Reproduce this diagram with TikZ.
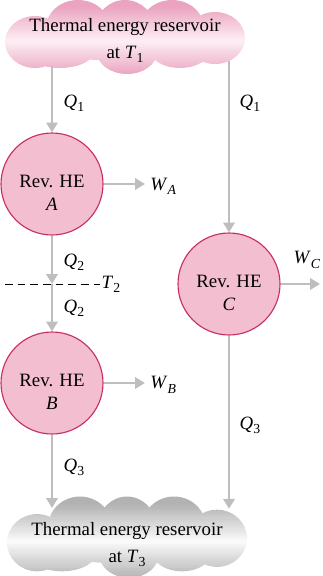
\documentclass[tikz,border=0pt]{standalone}
\usepackage{fontspec}
\setmainfont{Liberation Serif}
\usetikzlibrary{arrows.meta}

\definecolor{hepink}{RGB}{242,190,208}
\definecolor{heborder}{RGB}{200,45,105}
\definecolor{flowgray}{RGB}{190,190,190}
\definecolor{hotdark}{RGB}{234,164,192}
\definecolor{hotlight}{RGB}{253,238,244}
\definecolor{colddark}{RGB}{178,178,178}
\definecolor{coldlight}{RGB}{250,250,250}

\newcommand{\vsub}[2]{\textit{#1}\raisebox{-0.5ex}{\fontsize{9.8}{10}\selectfont #2}}

% Cloud outline (overlapping puffs around the origin)
\newcommand{\cloudpath}{(-2.25,-0.175) ellipse (0.75 and 0.65)
  (-1.175,0.175) ellipse (0.8 and 0.7)
  (0,0.125) circle (0.75)
  (1.175,0.175) ellipse (0.8 and 0.7)
  (2.25,-0.075) ellipse (0.75 and 0.65)
  (-1.625,-0.375) ellipse (0.875 and 0.45)
  (0.05,-0.425) ellipse (0.75 and 0.55)
  (1.375,-0.375) ellipse (0.75 and 0.45)
  (0,-0.1) ellipse (2.4 and 0.55)}
% Cloud filled with strips: light band in the middle, dark at the edges
\newcommand{\cloudfill}[2]{%
  \begin{scope}
    \clip \cloudpath;
    \foreach \k in {0,...,37} {
      \pgfmathsetmacro\ya{0.9-\k*0.05}
      \pgfmathtruncatemacro\p{min(100,abs(\ya-0.025+0.15)/0.85*100)}
      \fill[#1!\p!#2] (-3.1,\ya) rectangle (3.1,\ya-0.051);
    }
  \end{scope}}

\begin{document}
\begin{tikzpicture}[every node/.style={font=\fontsize{13.4}{16.4}\selectfont},
  engine/.style={circle, draw=heborder, line width=0.8pt, fill=hepink,
    minimum size=2.55cm, inner sep=0pt, align=center, text height=38pt},
  flow/.style={draw=flowgray, line width=2pt, -{Triangle[length=7pt,width=8pt]}},
  lbl/.style={anchor=west, inner sep=1pt},
  reservoir/.style={align=center, font=\fontsize{13.4}{19}\selectfont}]
\useasboundingbox (0,0) rectangle (8.05,-14.4);

% Reservoirs
\begin{scope}[shift={(3.125,-0.875)}]
  \cloudfill{hotdark}{hotlight}
\end{scope}
\begin{scope}[shift={(3.175,-13.375)}, yscale=1.1]
  \cloudfill{colddark}{coldlight}
\end{scope}
\node[reservoir] (hot) at (3.125,-1.02) {Thermal energy reservoir\\at \vsub{T}{1}};
\node[reservoir] (cold) at (3.175,-13.62) {Thermal energy reservoir\\at \vsub{T}{3}};

% Heat engines
\node[engine] (A) at (1.3,-4.6) {Rev. HE\\\textit{A}};
\node[engine] (B) at (1.3,-9.575) {Rev. HE\\\textit{B}};
\node[engine] (C) at (5.725,-7.1) {Rev. HE\\\textit{C}};

% Connector ends
\coordinate (hotA) at (1.3,-1.65);
\coordinate (hotC) at (5.725,-1.52);
\coordinate (coldB) at (1.3,-12.7);
\coordinate (coldC) at (5.725,-12.72);
\coordinate (mid) at (1.3,-7.1);
\coordinate (dashL) at (0.125,-7.1);
\coordinate (wA) at (3.625,-4.6);
\coordinate (wB) at (3.625,-9.575);
\coordinate (wC) at (8.0,-7.1);

% Intermediate temperature
\node[lbl] (T2) at (2.5,-7.1) {\vsub{T}{2}};
\draw[dash pattern=on 5.5pt off 3.5pt, thin] (dashL) -- (T2.west);

% Heat flows
\draw[flow] (hotA) -- (A);
\draw[flow] (A) -- (mid);
\draw[flow] (mid) -- (B);
\draw[flow] (B) -- (coldB);
\draw[flow] (hotC) -- (C);
\draw[flow] (C) -- (coldC);

% Work outputs
\draw[flow] (A) -- (wA);
\draw[flow] (B) -- (wB);
\draw[flow] (C) -- (wC);

% Labels
\node[lbl] (q1A) at (1.55,-2.575) {\vsub{Q}{1}};
\node[lbl] (q1C) at (5.95,-2.575) {\vsub{Q}{1}};
\node[lbl] (q2A) at (1.55,-6.55) {\vsub{Q}{2}};
\node[lbl] (q2B) at (1.55,-7.7) {\vsub{Q}{2}};
\node[lbl] (q3B) at (1.55,-11.675) {\vsub{Q}{3}};
\node[lbl] (q3C) at (5.95,-10.625) {\vsub{Q}{3}};
\node[lbl] (WA) at (3.72,-4.65) {\vsub{W}{\textit{A}}};
\node[lbl] (WB) at (3.72,-9.625) {\vsub{W}{\textit{B}}};
\node[lbl] (WC) at (7.3,-6.5) {\vsub{W}{\textit{C}}};
\end{tikzpicture}
\end{document}
